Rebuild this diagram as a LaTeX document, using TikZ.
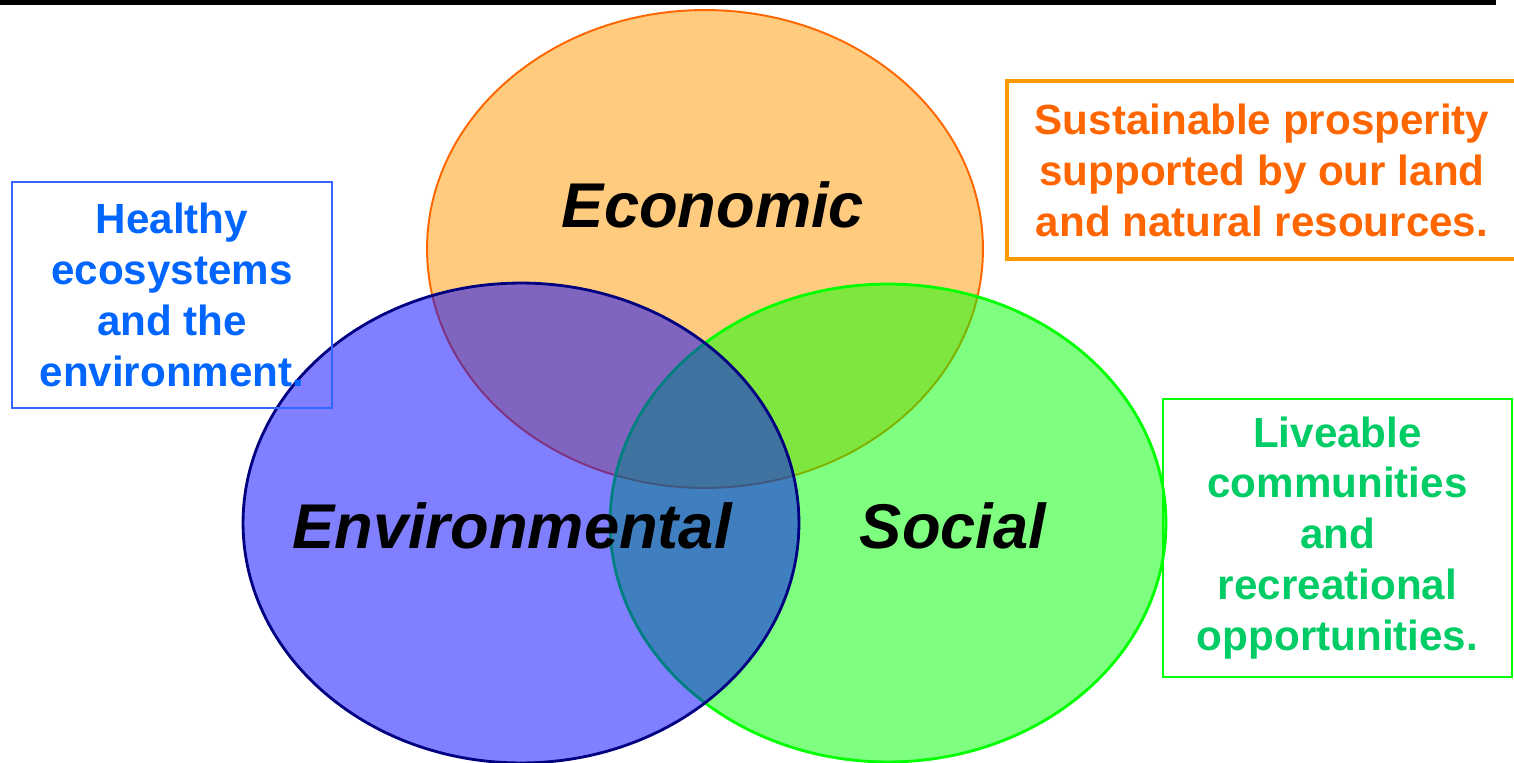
\documentclass[tikz,border=0pt]{standalone}
\usepackage{fontspec}
\setmainfont{Liberation Sans}
\usetikzlibrary{shapes.geometric}
\definecolor{econfill}{HTML}{FF9900}
\definecolor{econline}{HTML}{FF6600}
\definecolor{socfill}{HTML}{00FF00}
\definecolor{envfill}{HTML}{0000FF}
\definecolor{envline}{HTML}{000080}
\definecolor{bluetext}{HTML}{0066FF}
\definecolor{blueline}{HTML}{3366FF}
\definecolor{greentext}{HTML}{00CC66}
\tikzset{
  circ/.style     = {draw, ellipse, minimum width=11.12cm, minimum height=9.56cm, fill opacity=0.5},
  pillar/.style   = {anchor=base, font=\fontsize{36}{43}\selectfont\bfseries\itshape},
  goal/.style     = {draw, rectangle, align=center, inner sep=0pt, font=\fontsize{24}{29}\selectfont\bfseries}
}

\begin{document}
\begin{tikzpicture}[x=0.02cm, y=-0.02cm]
\useasboundingbox (0,0) rectangle (1514,763);

% Top rule
\fill[black] (0,0) rectangle (1496,5);

% Circles
\draw node [circ, fill=econfill, draw=econline, line width=1.1pt, name=econ] at (705,249) {};
\draw node [circ, fill=socfill, draw=socfill, line width=1.6pt, name=soc] at (888,523) {};
\draw node [circ, fill=envfill, draw=envline, line width=1.6pt, minimum height=9.6cm, name=env] at (521,523) {};

% Pillar names
\draw node [pillar, name=econlabel] at (713,228) {Economic};
\draw node [pillar, name=envlabel] at (512,548) {Environmental};
\draw node [pillar, name=soclabel] at (953,548) {Social};

% Goals
\draw node [goal, draw=econfill, text=econline, line width=2.3pt, minimum width=10.2cm, minimum height=3.56cm, name=econgoal] at (1262,170)
  {Sustainable prosperity\\supported by our land\\and natural resources.};
\draw node [goal, draw=blueline, text=bluetext, line width=1.1pt, minimum width=6.4cm, minimum height=4.52cm, name=envgoal] at (172,295)
  {Healthy\\ecosystems\\and the\\environment.};
\draw node [goal, draw=socfill, text=greentext, line width=1.6pt, minimum width=6.98cm, minimum height=5.56cm, name=socgoal] at (1337.5,538)
  {Liveable\\communities\\and\\recreational\\opportunities.};

\end{tikzpicture}
\end{document}
